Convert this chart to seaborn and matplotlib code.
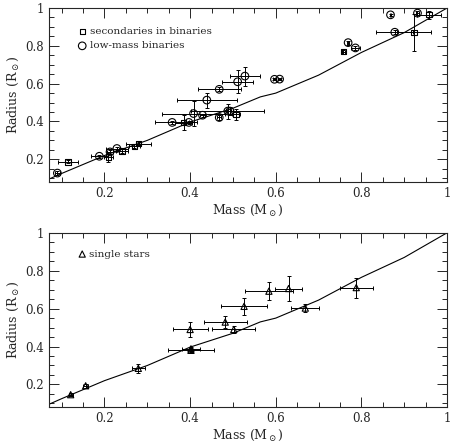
import matplotlib
matplotlib.use("Agg")
import matplotlib.pyplot as plt
import seaborn as sns
from matplotlib.ticker import MultipleLocator, FixedLocator

# model curve (mass-radius relation)
model_mass = [0.07, 0.1, 0.2, 0.3, 0.4, 0.5, 0.564, 0.6, 0.7, 0.8, 0.9, 1.0]
model_radius = [0.095, 0.125, 0.22, 0.30, 0.397, 0.47, 0.53, 0.55, 0.645, 0.765, 0.87, 1.0]

# secondaries in binaries (squares)
sec_mass = [0.115, 0.209, 0.241, 0.270, 0.280, 0.385, 0.507, 0.758, 0.923, 0.958]
sec_radius = [0.186, 0.212, 0.244, 0.269, 0.283, 0.393, 0.437, 0.769, 0.872, 0.964]
sec_merr = [0.023, 0.010, 0.015, 0.012, 0.029, 0.020, 0.010, 0.004, 0.039, 0.027]
sec_rerr = [0.008, 0.027, 0.010, 0.010, 0.010, 0.040, 0.030, 0.010, 0.097, 0.020]

# low-mass binaries (circles)
lmb_mass = [0.090, 0.188, 0.213, 0.229, 0.358, 0.397, 0.408, 0.429, 0.439, 0.468,
            0.468, 0.488, 0.493, 0.511, 0.528, 0.597, 0.609, 0.769, 0.786, 0.868,
            0.878, 0.931]
lmb_radius = [0.127, 0.216, 0.239, 0.257, 0.395, 0.395, 0.442, 0.433, 0.513, 0.570,
              0.421, 0.455, 0.455, 0.610, 0.640, 0.623, 0.624, 0.817, 0.789, 0.964,
              0.872, 0.973]
lmb_merr = [0.005, 0.020, 0.006, 0.025, 0.039, 0.018, 0.074, 0.006, 0.070, 0.050,
            0.005, 0.085, 0.006, 0.037, 0.035, 0.003, 0.003, 0.003, 0.010, 0.002,
            0.043, 0.003]
lmb_rerr = [0.010, 0.008, 0.010, 0.008, 0.010, 0.010, 0.066, 0.008, 0.040, 0.010,
            0.012, 0.040, 0.020, 0.060, 0.050, 0.006, 0.006, 0.010, 0.010, 0.006,
            0.012, 0.010]

# single stars (triangles)
ss_mass = [0.121, 0.156, 0.279, 0.400, 0.402, 0.402, 0.482, 0.502, 0.526, 0.584,
           0.630, 0.669, 0.788]
ss_radius = [0.146, 0.193, 0.285, 0.490, 0.388, 0.380, 0.529, 0.490, 0.612, 0.692,
             0.706, 0.603, 0.711]
ss_merr = [0.005, 0.006, 0.015, 0.041, 0.020, 0.053, 0.050, 0.050, 0.053, 0.056,
           0.032, 0.033, 0.039]
ss_rerr = [0.008, 0.010, 0.022, 0.040, 0.012, 0.010, 0.030, 0.020, 0.044, 0.046,
           0.065, 0.020, 0.053]

sns.set_style("ticks")
plt.rcParams["font.family"] = ["DejaVu Serif"]
plt.rcParams["mathtext.fontset"] = "dejavuserif"

fig = plt.figure(figsize=(4.52, 4.46), dpi=100)
ax1 = fig.add_axes([0.108, 0.592, 0.881, 0.390])
ax2 = fig.add_axes([0.108, 0.087, 0.881, 0.391])

eb = dict(fmt="none", ecolor="black", elinewidth=0.7, capsize=1.5, capthick=0.7)
sq = dict(marker="s", s=14, facecolor="none", edgecolor="black", linewidth=0.8)
ci = dict(marker="o", s=30, facecolor="none", edgecolor="black", linewidth=0.8)
tr = dict(marker="^", s=20, facecolor="none", edgecolor="black", linewidth=0.8)

# top panel
sns.lineplot(x=model_mass, y=model_radius, color="black", linewidth=0.8, ax=ax1)
ax1.errorbar(sec_mass, sec_radius, xerr=sec_merr, yerr=sec_rerr, **eb)
ax1.errorbar(lmb_mass, lmb_radius, xerr=lmb_merr, yerr=lmb_rerr, **eb)
sns.scatterplot(x=sec_mass, y=sec_radius, ax=ax1, zorder=3, **sq)
sns.scatterplot(x=lmb_mass, y=lmb_radius, ax=ax1, zorder=3, **ci)
ax1.scatter([0.148], [0.874], **sq)
ax1.text(0.166, 0.874, "secondaries in binaries", fontsize=7.5, va="center")
ax1.scatter([0.148], [0.80], **ci)
ax1.text(0.166, 0.80, "low-mass binaries", fontsize=7.5, va="center")

# bottom panel
sns.lineplot(x=model_mass, y=model_radius, color="black", linewidth=0.8, ax=ax2)
ax2.errorbar(ss_mass, ss_radius, xerr=ss_merr, yerr=ss_rerr, **eb)
sns.scatterplot(x=ss_mass, y=ss_radius, ax=ax2, zorder=3, **tr)
ax2.scatter([0.148], [0.888], **tr)
ax2.text(0.164, 0.888, "single stars", fontsize=7.5, va="center")

for ax in (ax1, ax2):
    ax.set_xlim(0.07, 1.0)
    ax.set_ylim(0.08, 1.0)
    ax.xaxis.set_major_locator(FixedLocator([0.2, 0.4, 0.6, 0.8, 1.0]))
    ax.yaxis.set_major_locator(FixedLocator([0.2, 0.4, 0.6, 0.8, 1.0]))
    ax.set_xticklabels(["0.2", "0.4", "0.6", "0.8", "1"])
    ax.set_yticklabels(["0.2", "0.4", "0.6", "0.8", "1"])
    ax.xaxis.set_minor_locator(MultipleLocator(0.05))
    ax.yaxis.set_minor_locator(MultipleLocator(0.05))
    ax.tick_params(which="both", direction="in", top=True, right=True,
                   labelsize=8.5, width=0.7)
    ax.tick_params(which="major", length=7)
    ax.tick_params(which="minor", length=3.5)
    for sp in ax.spines.values():
        sp.set_linewidth(0.8)
        sp.set_visible(True)
    ax.set_xlabel(r"Mass (M$_\odot$)", fontsize=9, labelpad=2)
    ax.set_ylabel(r"Radius (R$_\odot$)", fontsize=9, labelpad=3)

fig.savefig("out.png", dpi=100)
